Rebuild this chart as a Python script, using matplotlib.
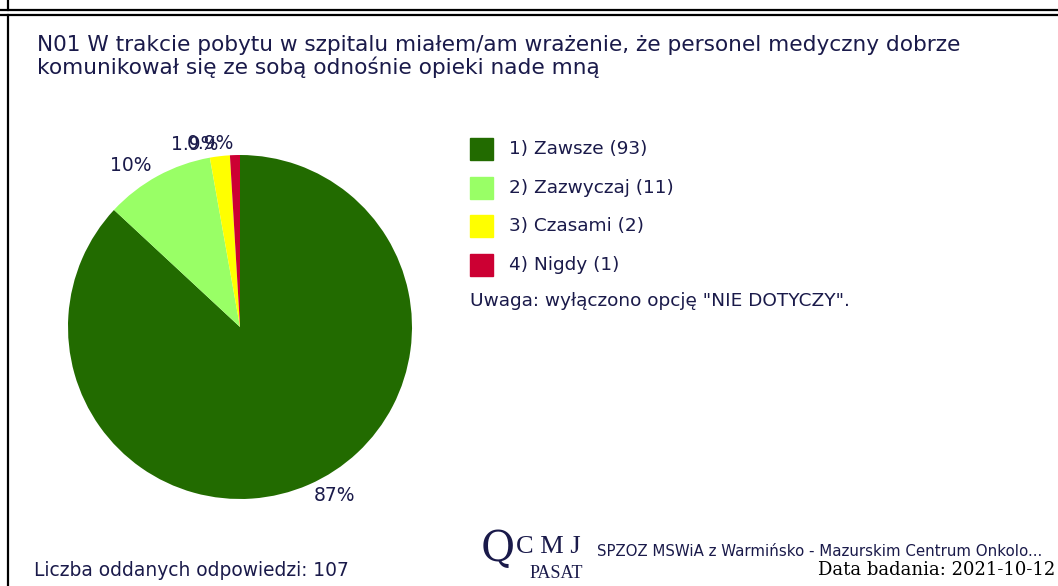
import matplotlib.pyplot as plt
from matplotlib.lines import Line2D
from matplotlib.patches import Rectangle

categories = ['1) Zawsze', '2) Zazwyczaj', '3) Czasami', '4) Nigdy']
counts = [93, 11, 2, 1]
pct_labels = ['87%', '10%', '1.9%', '0.9%']
colors = ['#226b00', '#99ff66', '#ffff00', '#cc0033']

title = ('N01 W trakcie pobytu w szpitalu miałem/am wrażenie, że personel medyczny dobrze\n'
         'komunikował się ze sobą odnośnie opieki nade mną')
note = 'Uwaga: wyłączono opcję "NIE DOTYCZY".'
total_text = 'Liczba oddanych odpowiedzi: 107'
site = 'SPZOZ MSWiA z Warmińsko - Mazurskim Centrum Onkolo...'
date_text = 'Data badania: 2021-10-12'

txt = '#1a1a4a'
plt.rcParams['font.family'] = ['DejaVu Sans']

W, H = 1058, 586
fig = plt.figure(figsize=(W / 100, H / 100), dpi=100)


def fx(x):
    return x / W


def fy(y):
    return 1 - y / H


# frame lines
for x0, y0, x1, y1 in [(8, 0, 8, 10), (0, 10, W, 10), (0, 14.5, W, 14.5), (8, 14.5, 8, H)]:
    fig.add_artist(Line2D([fx(x0), fx(x1)], [fy(y0), fy(y1)], color='black', lw=1.6))

fig.text(fx(37), fy(35), title, ha='left', va='top', fontsize=15.6, color=txt,
         linespacing=1.1)

# pie
cx, cy, r = 240, 327, 172
ax = fig.add_axes([fx(cx - r), fy(cy + r), 2 * r / W, 2 * r / H])
wedges, texts = ax.pie(counts, colors=colors, labels=pct_labels, startangle=90,
                       counterclock=False, labeldistance=1.07,
                       textprops=dict(fontsize=13.5, color=txt))
for t in texts:
    t.set_clip_on(False)
ax.set_xlim(-1, 1)
ax.set_ylim(-1, 1)
ax.set_aspect('equal')
ax.axis('off')

# legend
for i, (cat, n, c) in enumerate(zip(categories, counts, colors)):
    y = 149 + i * 38.7
    fig.add_artist(Rectangle((fx(470), fy(y + 11)), 23 / W, 22 / H, color=c))
    fig.text(fx(509), fy(y), f'{cat} ({n})', ha='left', va='center', fontsize=13.3, color=txt)
fig.text(fx(470), fy(301), note, ha='left', va='center', fontsize=13.3, color=txt)

# footer
fig.text(fx(34), fy(570), total_text, ha='left', va='center', fontsize=13.4, color=txt)
fig.text(fx(481), fy(549), 'Q', ha='left', va='center', fontsize=30, color=txt,
         family='DejaVu Serif')
fig.text(fx(516), fy(547), 'C M J', ha='left', va='center', fontsize=19, color=txt,
         family='Liberation Serif')
fig.text(fx(530), fy(574), 'PASAT', ha='left', va='center', fontsize=13, color=txt,
         family='Liberation Serif')
fig.text(fx(597), fy(551), site, ha='left', va='center', fontsize=10.8, color=txt)
fig.text(fx(1055), fy(570), date_text, ha='right', va='center', fontsize=13, color='black',
         family='DejaVu Serif')

fig.savefig('out.png', dpi=100)
